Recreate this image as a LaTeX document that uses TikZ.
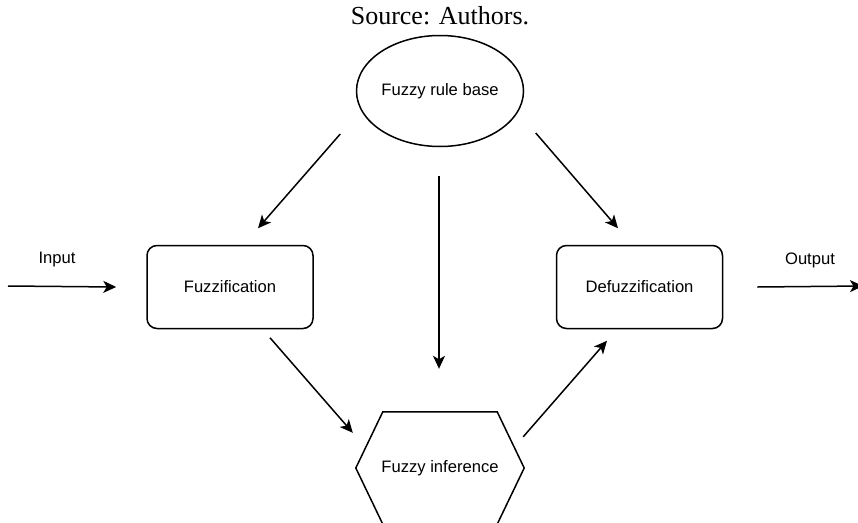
\documentclass[tikz,border=0pt]{standalone}
\usepackage{fontspec}
\setmainfont{Liberation Serif}
\newfontfamily\diagfont{Liberation Sans}
\usetikzlibrary{shapes}
\usetikzlibrary{arrows.meta}
\tikzstyle{block} = [rectangle, draw, line width=1.5pt, rounded corners=10pt,
    minimum width=166pt, minimum height=83pt, text centered,
    font={\diagfont\fontsize{16.6}{19}\selectfont}]
\tikzstyle{cloud} = [ellipse, draw, line width=1.5pt, minimum width=167pt,
    minimum height=111pt, inner sep=0pt, font={\diagfont\fontsize{16.6}{19}\selectfont}]
\tikzstyle{hexa} = [rectangle, minimum width=168pt, minimum height=112pt,
    font={\diagfont\fontsize{16.6}{19}\selectfont}]
\tikzstyle{lbl} = [font={\diagfont\fontsize{16.6}{19}\selectfont}]
\tikzstyle{line} = [draw, line width=1.5pt, -{Stealth[length=13pt,width=12pt,inset=3.5pt]}]

\begin{document}
\begin{tikzpicture}[x=1pt, y=-1pt]
    \useasboundingbox (0,0) rectangle (858,522);
    % Place nodes
    \node [font=\fontsize{26}{30}\selectfont] (source) at (440,16) {Source: Authors.};
    \node [cloud] (base) at (440,91) {Fuzzy rule base};
    \node [block] (fuzz) at (230,287) {Fuzzification};
    \node [block] (defuzz) at (639.5,287) {Defuzzification};
    \node [hexa] (infer) at (440,468) {Fuzzy inference};
    \node [lbl] (inlabel) at (57,260) {Input};
    \node [lbl] (outlabel) at (810,260) {Output};
    \coordinate (in) at (8,286);
    \coordinate (out) at (863,286);
    % Hexagon outline
    \draw [line width=1.5pt] (infer.west) -- ([xshift=27pt]infer.north west)
        -- ([xshift=-27pt]infer.north east) -- (infer.east)
        -- ([xshift=-27pt]infer.south east) -- ([xshift=27pt]infer.south west) -- cycle;
    % Draw edges
    \path [line] (in) -- ([xshift=-30pt]fuzz.west);
    \path [line] ([shift={(-15.5,43)}]base.west) -- ([shift={(28,-16.5)}]fuzz.north);
    \path [line] ([shift={(-1,28.5)}]base.south) -- ([shift={(-1,-43)}]infer.north);
    \path [line] ([shift={(11.5,42)}]base.east) -- ([shift={(-21.5,-16.5)}]defuzz.north);
    \path [line] ([shift={(40,8.5)}]fuzz.south) -- ([shift={(-3,21)}]infer.north west);
    \path [line] ([shift={(-1,25)}]infer.north east) -- ([shift={(-32.5,11.5)}]defuzz.south);
    \path [line] ([xshift=34pt]defuzz.east) -- (out);
\end{tikzpicture}
\end{document}
